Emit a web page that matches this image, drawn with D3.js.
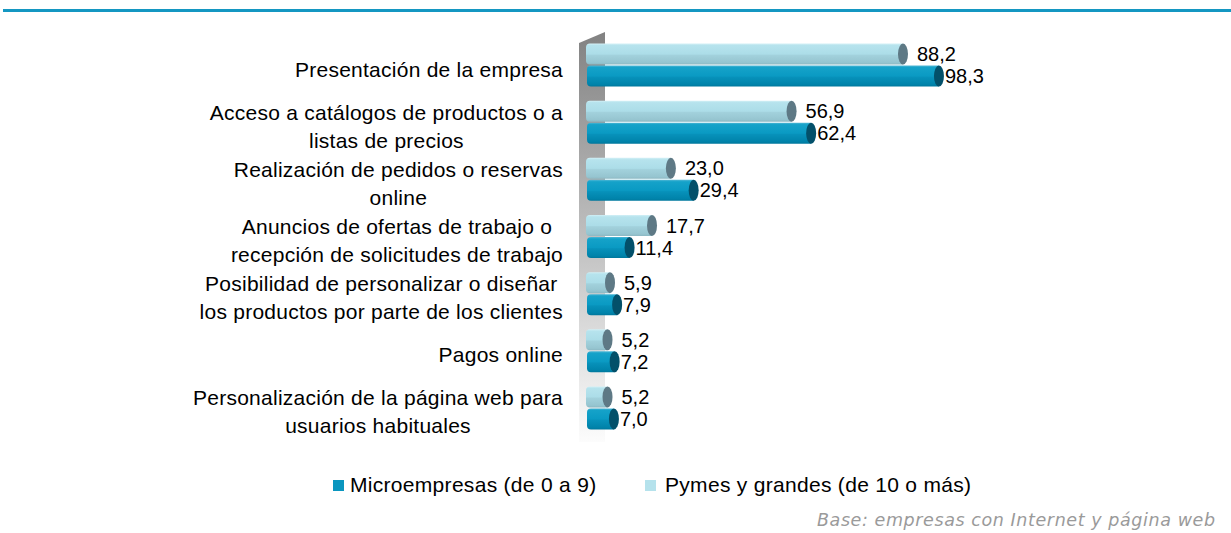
<!DOCTYPE html>
<html><head><meta charset="utf-8">
<script src="https://cdn.jsdelivr.net/npm/d3@7"></script>
<style>
html,body{margin:0;padding:0;background:#fff;}
svg{display:block;}
</style></head>
<body>
<svg id="chart" width="1231" height="533"></svg>
<script>
const categories = [
  "Presentación de la empresa",
  "Acceso a catálogos de productos o a listas de precios",
  "Realización de pedidos o reservas online",
  "Anuncios de ofertas de trabajo o recepción de solicitudes de trabajo",
  "Posibilidad de personalizar o diseñar los productos por parte de los clientes",
  "Pagos online",
  "Personalización de la página web para usuarios habituales"
];
const categoryLines = [
  ["Presentación de la empresa"],
  ["Acceso a catálogos de productos o a", "listas de precios"],
  ["Realización de pedidos o reservas", "online"],
  ["Anuncios de ofertas de trabajo o", "recepción de solicitudes de trabajo"],
  ["Posibilidad de personalizar o diseñar", "los productos por parte de los clientes"],
  ["Pagos online"],
  ["Personalización de la página web para", "usuarios habituales"]
];
const microValues = [98.3, 62.4, 29.4, 11.4, 7.9, 7.2, 7.0];
const pymesValues = [88.2, 56.9, 23.0, 17.7, 5.9, 5.2, 5.2];
const seriesNames = ["Microempresas (de 0 a 9)", "Pymes y grandes (de 10 o más)"];
const footnote = "Base: empresas con Internet y página web";

const svg = d3.select("#chart");
const defs = svg.append("defs");

function vgrad(id, stops, attrs) {
  const g = defs.append("linearGradient").attr("id", id)
    .attr("x1", 0).attr("y1", 0).attr("x2", 0).attr("y2", 1);
  if (attrs) Object.entries(attrs).forEach(([k, v]) => g.attr(k, v));
  stops.forEach(s => g.append("stop").attr("offset", s[0]).attr("stop-color", s[1]));
}
vgrad("gDark", [[0, "#4fb7d5"], [0.09, "#15a2c9"], [0.5, "#0a9ac3"], [0.56, "#0791ba"], [0.9, "#0083aa"], [1, "#00779c"]]);
vgrad("gLight", [[0, "#d2f0f6"], [0.09, "#b6e3ed"], [0.5, "#acdde8"], [0.56, "#a2d1dc"], [0.9, "#96c5d0"], [1, "#8cb8c3"]]);
vgrad("gWall", [[0, "#828282"], [1, "#ffffff"]], {gradientUnits: "userSpaceOnUse", y1: 32, y2: 452, x1: 0, x2: 0});

// top rule
svg.append("rect").attr("x", 3).attr("y", 9).attr("width", 1228).attr("height", 3).attr("fill", "#1497c2");

const x = d3.scaleLinear().domain([0, 100]).range([589, 945]);
const y = d3.scaleBand().domain(d3.range(categories.length)).range([37, 437]);

// wall
svg.append("polygon")
  .attr("points", [[579, 43], [605, 32], [605, 442], [579, 442]].map(p => p.join(",")).join(" "))
  .attr("fill", "url(#gWall)");

const fmt = v => d3.format(".1f")(v).replace(".", ",");
const barH = 21;

function drawBar(g, x0, xe, top, fill, capFill) {
  const r = 4, rx = 5;
  const p = d3.path();
  p.moveTo(x0 + r, top);
  p.lineTo(xe, top);
  p.lineTo(xe, top + barH);
  p.lineTo(x0 + r, top + barH);
  p.quadraticCurveTo(x0, top + barH, x0, top + barH - r);
  p.lineTo(x0, top + r);
  p.quadraticCurveTo(x0, top, x0 + r, top);
  p.closePath();
  g.append("path").attr("d", p.toString()).attr("fill", fill);
  g.append("ellipse").attr("cx", xe).attr("cy", top + barH / 2)
    .attr("rx", rx).attr("ry", barH / 2).attr("fill", capFill);
}

const bars = svg.append("g");
categories.forEach((c, i) => {
  const cy = y(i) + y.bandwidth() / 2;
  // light (back) series
  const lTop = cy - 22;
  drawBar(bars, 586, x(pymesValues[i]), lTop, "url(#gLight)", "#5e7985");
  bars.append("text").attr("x", x(pymesValues[i]) + 14).attr("y", lTop + barH / 2 + 7)
    .attr("font-family", "Liberation Sans, Arial, sans-serif").attr("font-size", 20)
    .attr("fill", "#000").text(fmt(pymesValues[i]));
  // dark series
  const dTop = cy;
  drawBar(bars, 587, x(microValues[i]), dTop, "url(#gDark)", "#03506a");
  bars.append("text").attr("x", x(microValues[i]) + 6).attr("y", dTop + barH / 2 + 7)
    .attr("font-family", "Liberation Sans, Arial, sans-serif").attr("font-size", 20)
    .attr("fill", "#000").text(fmt(microValues[i]));
});

// category labels
const labG = svg.append("g").attr("font-family", "Liberation Sans, Arial, sans-serif")
  .attr("font-size", 21).attr("fill", "#000").attr("letter-spacing", 0.25);
categoryLines.forEach((lines, i) => {
  const cy = y(i) + y.bandwidth() / 2 + 4;
  const g = labG.append("g");
  const ts = lines.map((ln, j) => g.append("text")
    .attr("text-anchor", "middle")
    .attr("y", cy + (j - (lines.length - 1) / 2) * 28 + 7)
    .text(ln));
  const maxW = d3.max(ts, t => t.node().getComputedTextLength());
  ts.forEach(t => t.attr("x", 563 - maxW / 2));
});

// legend
const leg = svg.append("g").attr("font-family", "Liberation Sans, Arial, sans-serif").attr("font-size", 21);
[[333, "#0a96bf", 350, seriesNames[0]], [645, "#b5e2ec", 665, seriesNames[1]]].forEach(d => {
  leg.append("rect").attr("x", d[0]).attr("y", 480).attr("width", 11).attr("height", 11).attr("fill", d[1]);
  leg.append("text").attr("x", d[2]).attr("y", 492).attr("letter-spacing", 0.3).text(d[3]);
});

// footnote
svg.append("text").attr("x", 1215).attr("y", 526).attr("text-anchor", "end")
  .attr("font-family", "DejaVu Sans, Verdana, sans-serif").attr("font-style", "italic")
  .attr("font-size", 17.5).attr("fill", "#9a9a9a")
  .attr("textLength", 398).attr("lengthAdjust", "spacing")
  .text(footnote);
</script>
</body></html>
